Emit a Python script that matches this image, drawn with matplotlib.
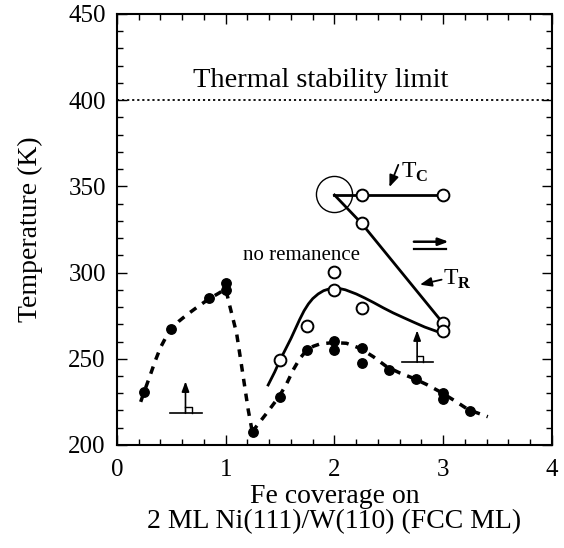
import numpy as np
import matplotlib
matplotlib.use('Agg')
import matplotlib.pyplot as plt
import matplotlib.ticker as mticker

plt.rcParams['font.family'] = ['Liberation Serif', 'DejaVu Serif']
plt.rcParams['mathtext.fontset'] = 'custom'
plt.rcParams['mathtext.rm'] = 'Liberation Serif'
plt.rcParams['mathtext.bf'] = 'Liberation Serif:bold'

# --- data ---
# filled dots
fill_x = [0.25, 0.5, 0.85, 1.0, 1.0, 1.25, 1.5, 1.75, 2.0, 2.0, 2.25, 2.25, 2.5, 2.75, 3.0, 3.0, 3.25]
fill_y = [231, 267.5, 285, 294, 290, 207.5, 228, 255, 260.5, 255, 256.5, 247.5, 243.5, 238.5, 230, 226.5, 219.5]

# open circles (T_R and T_C)
open_x = [1.5, 1.75, 2.0, 2.0, 2.25, 3.0, 3.0, 2.25, 2.25, 3.0]
open_y = [249.5, 269, 300.5, 290, 279.5, 270.5, 266, 328.5, 345, 345]

# T_C line and T_R line from the multicritical point
tc_x = [2.0, 2.25, 3.0]
tc_y = [345, 345, 345]
tr_x = [2.0, 2.25, 3.0]
tr_y = [345, 328.5, 270.5]
crit_x, crit_y = 2.0, 345.5

# solid guide curve through open circles
fit_x = [1.39, 1.45, 1.50, 1.56, 1.60, 1.64, 1.68, 1.72, 1.76, 1.80, 1.85, 1.90, 1.95, 2.0, 2.05,
         2.10, 2.20, 2.28, 2.36, 2.45, 2.54, 2.63, 2.725, 2.83, 2.94, 3.0]
fit_y = [234.8, 242.3, 249.3, 256.8, 261.8, 267.3, 272.8, 277.8, 281.8, 284.9, 287.6, 289.5, 290.5,
         290.9, 290.7, 290.0, 287.6, 285.2, 282.6, 279.5, 276.6, 274.0, 271.3, 268.4, 265.9, 265.5]

# dashed guide curves through filled dots
d1_x = [0.218, 0.251, 0.303, 0.35, 0.40, 0.45, 0.50, 0.57, 0.64, 0.745, 0.845, 0.93, 1.0,
        1.039, 1.1, 1.161, 1.207, 1.244]
d1_y = [225, 231, 240, 248.5, 256.5, 262.5, 267.3, 271.8, 275.4, 280.3, 284.7, 287.8, 290.5,
        280.2, 264.8, 239.6, 220.3, 207.7]
d2_x = [1.244, 1.376, 1.49, 1.56, 1.62, 1.68, 1.744, 1.807, 1.867, 1.99, 2.11, 2.234, 2.357, 2.48,
        2.6, 2.725, 2.85, 2.97, 3.12, 3.23, 3.41]
d2_y = [207.7, 218.4, 228, 235.5, 243.5, 250, 255, 257.3, 258.6, 259.4, 259.0, 256.1, 251.2, 245.4,
        241.8, 238.7, 235, 230.9, 225.1, 220.5, 216.4]

limit_T = 400

# --- figure ---
fig = plt.figure(figsize=(5.64, 5.48), dpi=100)
ax = fig.add_axes([0.2074, 0.188, 0.7713, 0.7865])

ax.axhline(limit_T, color='black', lw=1.3, ls=(0, (1.2, 1.6)))
ax.text(0.70, 407.8, 'Thermal stability limit', fontsize=20.5, ha='left', va='baseline')

dash = (0, (2.2, 2.1))
ax.plot(d1_x, d1_y, color='black', lw=2.5, ls=dash)
ax.plot(d2_x, d2_y, color='black', lw=2.5, ls=dash)
ax.plot(fit_x, fit_y, color='black', lw=2.0)
ax.plot(tc_x, tc_y, color='black', lw=2.0)
ax.plot(tr_x, tr_y, color='black', lw=2.0)

ax.plot(fill_x, fill_y, 'o', color='black', ms=6.8, zorder=5)
ax.plot(open_x, open_y, 'o', mfc='white', mec='black', mew=1.4, ms=8.5, zorder=6)
ax.plot([crit_x], [crit_y], 'o', mfc='none', mec='black', mew=1.0, ms=26, zorder=4)

# labels and arrows
head = '-|>,head_length=0.7,head_width=0.28'
ax.text(2.615, 355, r'T$_\mathbf{C}$', fontsize=17, ha='left', va='baseline')
ax.annotate('', xy=(2.505, 349.6), xytext=(2.587, 362.5),
            arrowprops=dict(arrowstyle=head, color='black', lw=1.3, shrinkA=0, shrinkB=0))
ax.text(3.0, 292.8, r'T$_\mathbf{R}$', fontsize=17, ha='left', va='baseline')
ax.annotate('', xy=(2.786, 293.0), xytext=(2.985, 295.9),
            arrowprops=dict(arrowstyle=head, color='black', lw=1.3, shrinkA=0, shrinkB=0))
ax.text(1.159, 307.3, 'no remanence', fontsize=15, ha='left', va='baseline')

# in-plane magnetisation symbol
ax.annotate('', xy=(3.05, 317.9), xytext=(2.73, 317.9),
            arrowprops=dict(arrowstyle='-|>,head_length=0.6,head_width=0.22', color='black', lw=1.8,
                            shrinkA=0, shrinkB=0))
ax.plot([2.73, 3.03], [313.5, 313.5], color='black', lw=1.6)

# perpendicular magnetisation symbols
for x0, x1, xa, y0 in [(0.49, 0.78, 0.63, 218.4), (2.62, 2.91, 2.76, 248.0)]:
    ax.plot([x0, x1], [y0, y0], color='black', lw=1.2)
    ax.annotate('', xy=(xa, y0 + 18.5), xytext=(xa, y0),
                arrowprops=dict(arrowstyle='-|>,head_length=0.6,head_width=0.22', color='black',
                                lw=1.2, shrinkA=0, shrinkB=0))
    ax.plot([xa, xa + 0.058, xa + 0.058], [y0 + 3.6, y0 + 3.6, y0], color='black', lw=1.0)

ax.set_xlim(0, 4)
ax.set_ylim(200, 450)
ax.xaxis.set_major_locator(mticker.MultipleLocator(1))
ax.xaxis.set_minor_locator(mticker.MultipleLocator(0.2))
ax.yaxis.set_major_locator(mticker.MultipleLocator(50))
ax.yaxis.set_minor_locator(mticker.MultipleLocator(10))
ax.tick_params(which='both', direction='in', top=True, right=True, width=1.0)
ax.tick_params(which='major', length=7, labelsize=18, pad=8)
ax.tick_params(axis='x', which='major', pad=10)
ax.tick_params(which='minor', length=4)
for sp in ax.spines.values():
    sp.set_linewidth(1.5)

ax.set_ylabel('Temperature (K)', fontsize=20, labelpad=18)
ax.set_xlabel('Fe coverage on\n2 ML Ni(111)/W(110) (FCC ML)', fontsize=20, labelpad=2, linespacing=1.0)

fig.savefig('out.png', dpi=100)
